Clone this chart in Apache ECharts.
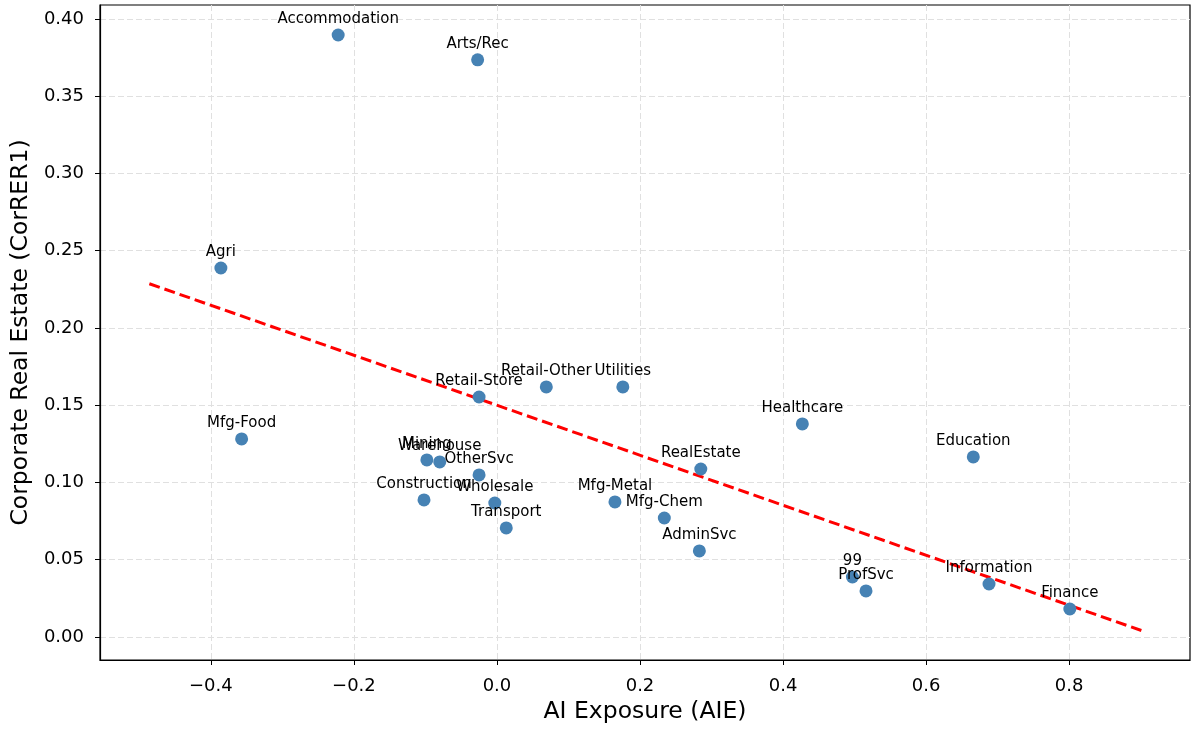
<!DOCTYPE html>
<html><head><meta charset="utf-8">
<script src="https://cdn.jsdelivr.net/npm/echarts@6/dist/echarts.min.js"></script>
<style>html,body{margin:0;padding:0;background:#fff}#c{width:1191px;height:729px}</style>
</head><body><div id="c"></div>
<script>
const industries = ['Accommodation','Arts/Rec','Agri','Mfg-Food','Retail-Store','Retail-Other','Utilities','Healthcare','Education','Mining','Warehouse','OtherSvc','RealEstate','Construction','Wholesale','Mfg-Metal','Mfg-Chem','Transport','AdminSvc','99','ProfSvc','Information','Finance'];
const aie = [-0.222,-0.027,-0.386,-0.357,-0.025,0.069,0.176,0.427,0.666,-0.098,-0.080,-0.025,0.285,-0.102,-0.003,0.165,0.234,0.013,0.283,0.497,0.516,0.688,0.801];
const corRER1 = [0.3896,0.3735,0.2388,0.1282,0.1553,0.1618,0.1618,0.1379,0.1165,0.1146,0.1133,0.1049,0.1087,0.0887,0.0867,0.0874,0.0770,0.0706,0.0557,0.0388,0.0298,0.0343,0.0181];
const trendX = [-0.486, 0.901];
const trendY = [0.2286, 0.0042];
const xTicks = [-0.4,-0.2,0.0,0.2,0.4,0.6,0.8];
const yTicks = [0.00,0.05,0.10,0.15,0.20,0.25,0.30,0.35,0.40];

const FONT = 'DejaVu Sans';
const fmtX = v => (v < -1e-9 ? '\u2212' + Math.abs(v).toFixed(1) : Math.abs(v).toFixed(1));
const fmtY = v => Math.abs(v).toFixed(2);
const gridLine = {show:true, lineStyle:{color:'#e0e0e0', type:[6,3], width:1}};

const chart = echarts.init(document.getElementById('c'), null, {renderer:'canvas'});
chart.setOption({
  animation:false,
  backgroundColor:'#fff',
  grid:{left:100, right:1, top:5, bottom:69, show:true, borderColor:'#000', borderWidth:1.2, backgroundColor:'transparent'},
  xAxis:{
    type:'value', min:-0.555, max:0.969,
    name:'AI Exposure (AIE)', nameLocation:'middle', nameGap:40,
    nameTextStyle:{fontFamily:FONT, fontSize:23.5, color:'#000'},
    axisLine:{show:true, onZero:false, lineStyle:{color:'#000', width:1.2}},
    axisTick:{show:true, inside:false, length:5, customValues:xTicks, lineStyle:{color:'#000', width:1}},
    axisLabel:{customValues:xTicks, formatter:fmtX, fontFamily:FONT, fontSize:18, color:'#000', margin:17},
    splitLine:gridLine
  },
  yAxis:{
    type:'value', min:-0.0149, max:0.409,
    name:'Corporate Real Estate (CorRER1)', nameLocation:'middle', nameGap:66,
    nameTextStyle:{fontFamily:FONT, fontSize:23.5, color:'#000'},
    axisLine:{show:true, onZero:false, lineStyle:{color:'#000', width:1.2}},
    axisTick:{show:true, inside:false, length:5, customValues:yTicks, lineStyle:{color:'#000', width:1}},
    axisLabel:{customValues:yTicks, formatter:fmtY, fontFamily:FONT, fontSize:18, color:'#000', margin:16},
    splitLine:gridLine
  },
  series:[
    {
      type:'line', data:trendX.map((x,i)=>[x,trendY[i]]), showSymbol:false, symbol:'none',
      lineStyle:{color:'#ff0000', width:3, type:[11,5]}, z:3, silent:true
    },
    {
      type:'scatter', symbolSize:13,
      data:aie.map((x,i)=>[x,corRER1[i],industries[i]]),
      itemStyle:{color:'#4682b4', opacity:1},
      label:{show:true, position:'top', distance:1.5, formatter:p=>p.data[2], fontFamily:FONT, fontSize:15, color:'#000'},
      labelLayout:{hideOverlap:false},
      z:4
    }
  ]
});
</script></body></html>
